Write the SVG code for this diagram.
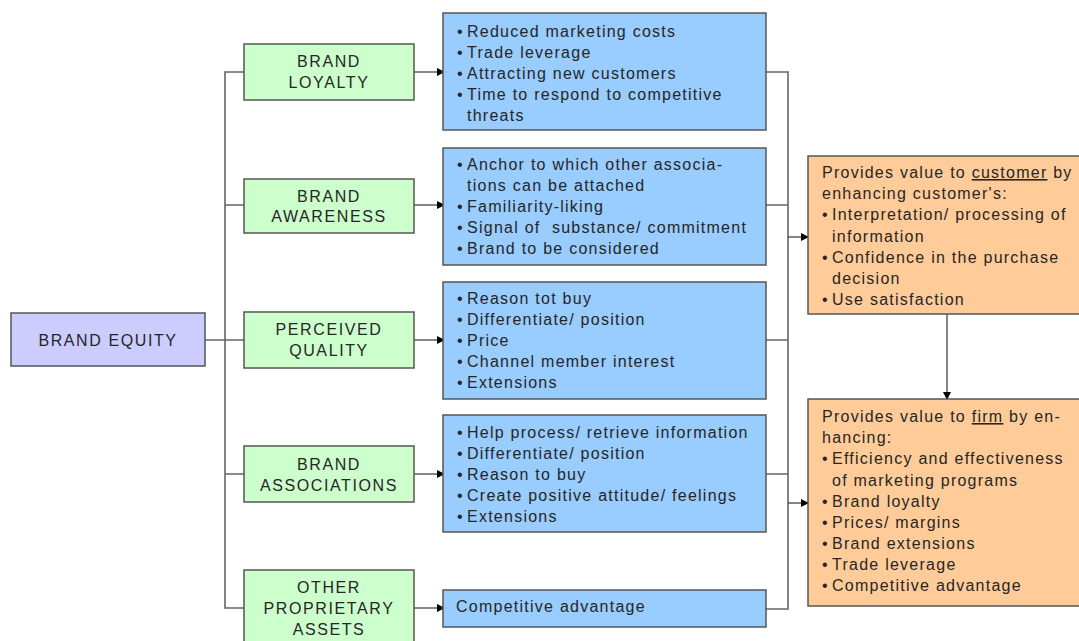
<svg xmlns="http://www.w3.org/2000/svg" width="1079" height="641" viewBox="0 0 1079 641">
<defs>
<marker id="ah" markerWidth="8" markerHeight="8" refX="7" refY="4" orient="auto" markerUnits="userSpaceOnUse">
<path d="M0,0 L8,4 L0,8 Z" fill="#000"/>
</marker>
<style>
text{font-family:"Liberation Sans",Arial,sans-serif;font-size:16px;fill:#262626;letter-spacing:1.25px;white-space:pre}
.ctr{text-anchor:middle;letter-spacing:1.6px}
.eq{fill:#ccccff;stroke:#555;stroke-width:1.5}
.gr{fill:#ccffcc;stroke:#555;stroke-width:1.5}
.bl{fill:#99ccff;stroke:#555;stroke-width:1.5}
.or{fill:#ffcc99;stroke:#555;stroke-width:1.5}
.ln{fill:none;stroke:#666;stroke-width:1.6}
.ar{fill:none;stroke:#444;stroke-width:1.3;marker-end:url(#ah)}
</style>
</defs>
<rect width="1079" height="641" fill="#fff"/>
<g id="connectors">
<path class="ln" d="M244,72 H225 V608 H244 M225,205 H244 M225,474 H244 M205,340 H244"/>
<path class="ar" d="M414,72 H444"/>
<path class="ar" d="M414,205 H444"/>
<path class="ar" d="M414,340 H444"/>
<path class="ar" d="M414,474 H444"/>
<path class="ar" d="M414,608 H444"/>
<path class="ln" d="M766,72 H788 V609 H766 M766,205 H788 M766,340 H788 M766,474 H788"/>
<path class="ar" d="M788,237 H808"/>
<path class="ar" d="M788,503 H808"/>
<path class="ar" d="M947,314 V399"/>
</g>
<g id="brand-equity">
<rect class="eq" x="11" y="313" width="194" height="53"/>
<text class="ctr" x="108" y="346">BRAND EQUITY</text>
</g>
<g id="brand-loyalty">
<rect class="gr" x="244" y="44" width="170" height="56"/>
<text class="ctr" x="329" y="67">BRAND</text>
<text class="ctr" x="329" y="88">LOYALTY</text>
</g>
<g id="brand-awareness">
<rect class="gr" x="244" y="179" width="170" height="54"/>
<text class="ctr" x="329" y="202">BRAND</text>
<text class="ctr" x="329" y="222">AWARENESS</text>
</g>
<g id="perceived-quality">
<rect class="gr" x="244" y="312" width="170" height="56"/>
<text class="ctr" x="329" y="335">PERCEIVED</text>
<text class="ctr" x="329" y="356">QUALITY</text>
</g>
<g id="brand-associations">
<rect class="gr" x="244" y="446" width="170" height="56"/>
<text class="ctr" x="329" y="470">BRAND</text>
<text class="ctr" x="329" y="491">ASSOCIATIONS</text>
</g>
<g id="other-assets">
<rect class="gr" x="244" y="570" width="170" height="80"/>
<text class="ctr" x="329" y="593">OTHER</text>
<text class="ctr" x="329" y="614">PROPRIETARY</text>
<text class="ctr" x="329" y="635">ASSETS</text>
</g>
<g id="loyalty-benefits">
<rect class="bl" x="443" y="13" width="323" height="117"/>
<text x="457" y="37">•</text><text x="467" y="37">Reduced marketing costs</text>
<text x="457" y="58">•</text><text x="467" y="58">Trade leverage</text>
<text x="457" y="79">•</text><text x="467" y="79">Attracting new customers</text>
<text x="457" y="100">•</text><text x="467" y="100">Time to respond to competitive</text>
<text x="467" y="121">threats</text>
</g>
<g id="awareness-benefits">
<rect class="bl" x="443" y="148" width="323" height="117"/>
<text x="457" y="170">•</text><text x="467" y="170">Anchor to which other associa-</text>
<text x="467" y="191">tions can be attached</text>
<text x="457" y="212">•</text><text x="467" y="212">Familiarity-liking</text>
<text x="457" y="233">•</text><text x="467" y="233">Signal of  substance/ commitment</text>
<text x="457" y="254">•</text><text x="467" y="254">Brand to be considered</text>
</g>
<g id="quality-benefits">
<rect class="bl" x="443" y="282" width="323" height="117"/>
<text x="457" y="304">•</text><text x="467" y="304">Reason tot buy</text>
<text x="457" y="325">•</text><text x="467" y="325">Differentiate/ position</text>
<text x="457" y="346">•</text><text x="467" y="346">Price</text>
<text x="457" y="367">•</text><text x="467" y="367">Channel member interest</text>
<text x="457" y="388">•</text><text x="467" y="388">Extensions</text>
</g>
<g id="associations-benefits">
<rect class="bl" x="443" y="415" width="323" height="117"/>
<text x="457" y="438">•</text><text x="467" y="438">Help process/ retrieve information</text>
<text x="457" y="459">•</text><text x="467" y="459">Differentiate/ position</text>
<text x="457" y="480">•</text><text x="467" y="480">Reason to buy</text>
<text x="457" y="501">•</text><text x="467" y="501">Create positive attitude/ feelings</text>
<text x="457" y="522">•</text><text x="467" y="522">Extensions</text>
</g>
<g id="assets-benefits">
<rect class="bl" x="443" y="590" width="323" height="37"/>
<text x="456" y="612">Competitive advantage</text>
</g>
<g id="customer-value">
<rect class="or" x="808" y="156" width="290" height="158"/>
<text x="822" y="178">Provides value to <tspan text-decoration="underline">customer</tspan> by</text>
<text x="822" y="199">enhancing customer's:</text>
<text x="822" y="220">•</text><text x="832" y="220">Interpretation/ processing of</text>
<text x="832" y="242">information</text>
<text x="822" y="263">•</text><text x="832" y="263">Confidence in the purchase</text>
<text x="832" y="284">decision</text>
<text x="822" y="305">•</text><text x="832" y="305">Use satisfaction</text>
</g>
<g id="firm-value">
<rect class="or" x="808" y="399" width="290" height="207"/>
<text x="822" y="422">Provides value to <tspan text-decoration="underline">firm</tspan> by en-</text>
<text x="822" y="443">hancing:</text>
<text x="822" y="464">•</text><text x="832" y="464">Efficiency and effectiveness</text>
<text x="832" y="486">of marketing programs</text>
<text x="822" y="507">•</text><text x="832" y="507">Brand loyalty</text>
<text x="822" y="528">•</text><text x="832" y="528">Prices/ margins</text>
<text x="822" y="549">•</text><text x="832" y="549">Brand extensions</text>
<text x="822" y="570">•</text><text x="832" y="570">Trade leverage</text>
<text x="822" y="591">•</text><text x="832" y="591">Competitive advantage</text>
</g>
</svg>
